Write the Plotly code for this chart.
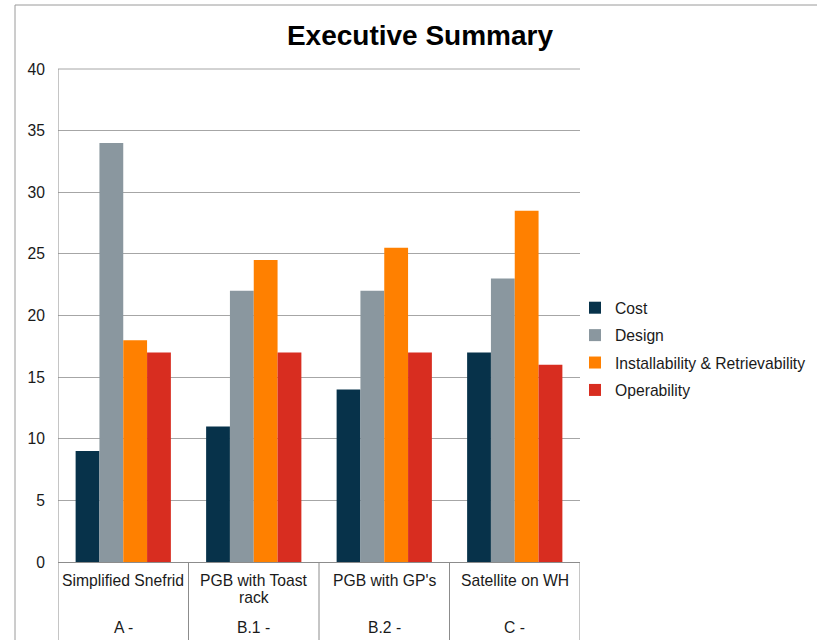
import plotly.graph_objects as go

categories = ["Simplified Snefrid", "PGB with Toast<br>rack", "PGB with GP's", "Satellite on WH"]
groups = ["A -", "B.1 -", "B.2 -", "C -"]
series_names = ["Cost", "Design", "Installability & Retrievability", "Operability"]
cost = [9, 11, 14, 17]
design = [34, 22, 22, 23]
install = [18, 24.5, 25.5, 28.5]
operab = [17, 17, 17, 16]
colors = ["#07324a", "#8a979f", "#ff8000", "#d82d20"]
y_ticks = [0, 5, 10, 15, 20, 25, 30, 35, 40]

W, H = 817, 640
L, R, T, B = 58, 237, 69, 78
pw, ph = W - L - R, H - T - B
FS = 15.7


def px_x(p):
    return (p - L) / pw


def px_y(p):
    return (H - B - p) / ph


fig = go.Figure()
xs = list(range(len(categories)))
for name, vals, col in zip(series_names, [cost, design, install, operab], colors):
    fig.add_trace(go.Bar(x=xs, y=vals, name=name, marker_color=col,
                         marker_line_width=0, legendgroup=name))

shapes = []
# outer frame
shapes.append(dict(type="rect", xref="paper", yref="paper",
                   x0=px_x(15), x1=px_x(W + 20), y0=px_y(H + 20), y1=px_y(5),
                   line=dict(color="#9a9a9a", width=1), fillcolor="rgba(0,0,0,0)", layer="below"))
# top border of plot area
shapes.append(dict(type="line", xref="x", yref="paper", x0=-0.5, x1=3.5, y0=1, y1=1,
                   line=dict(color="#a6a6a6", width=1)))
# category dividers
for i in range(len(categories) + 1):
    top = 1 if i == 0 else 0
    shapes.append(dict(type="line", xref="x", yref="paper", x0=i - 0.5, x1=i - 0.5,
                       y0=top, y1=px_y(H + 5), line=dict(color="#8c8c8c", width=1)))

annotations = []
for i, (c, g) in enumerate(zip(categories, groups)):
    for j, line in enumerate(c.split("<br>")):
        annotations.append(dict(x=i, y=px_y(580 + 17 * j), xref="x", yref="paper", text=line,
                                showarrow=False, yanchor="middle", align="center",
                                font=dict(size=FS, color="#1a1a1a")))
    annotations.append(dict(x=i, y=px_y(627), xref="x", yref="paper", text=g,
                            showarrow=False, yanchor="middle",
                            font=dict(size=FS, color="#1a1a1a")))

fig.update_layout(
    width=W, height=H,
    margin=dict(l=L, r=R, t=T, b=B, autoexpand=False),
    paper_bgcolor="white", plot_bgcolor="white",
    font=dict(family="Liberation Sans, Arial, sans-serif", size=FS, color="#1a1a1a"),
    title=dict(text="<b>Executive Summary</b>", x=420 / W, xanchor="center",
               y=1 - 35 / H, yanchor="middle",
               font=dict(size=28, color="black")),
    barmode="group", bargap=0.27, bargroupgap=0,
    xaxis=dict(range=[-0.5, 3.5], showticklabels=False, showgrid=False,
               zeroline=False, showline=True, linecolor="#8c8c8c", ticks=""),
    yaxis=dict(range=[0, 40], tickvals=y_ticks, showgrid=True, gridcolor="#a6a6a6",
               gridwidth=1, zeroline=False, showline=False, ticks="",
               ticklabelstandoff=12, tickfont=dict(size=FS)),
    legend=dict(x=575 / W, y=1 - 291 / H, xref="container", yref="container",
                xanchor="left", yanchor="top",
                font=dict(size=FS), itemwidth=30, tracegroupgap=4,
                bgcolor="rgba(0,0,0,0)"),
    shapes=shapes, annotations=annotations,
)

fig.write_html("out.html", config={"displayModeBar": False},
               post_script="document.body.style.margin='0';document.body.style.overflow='hidden';")
